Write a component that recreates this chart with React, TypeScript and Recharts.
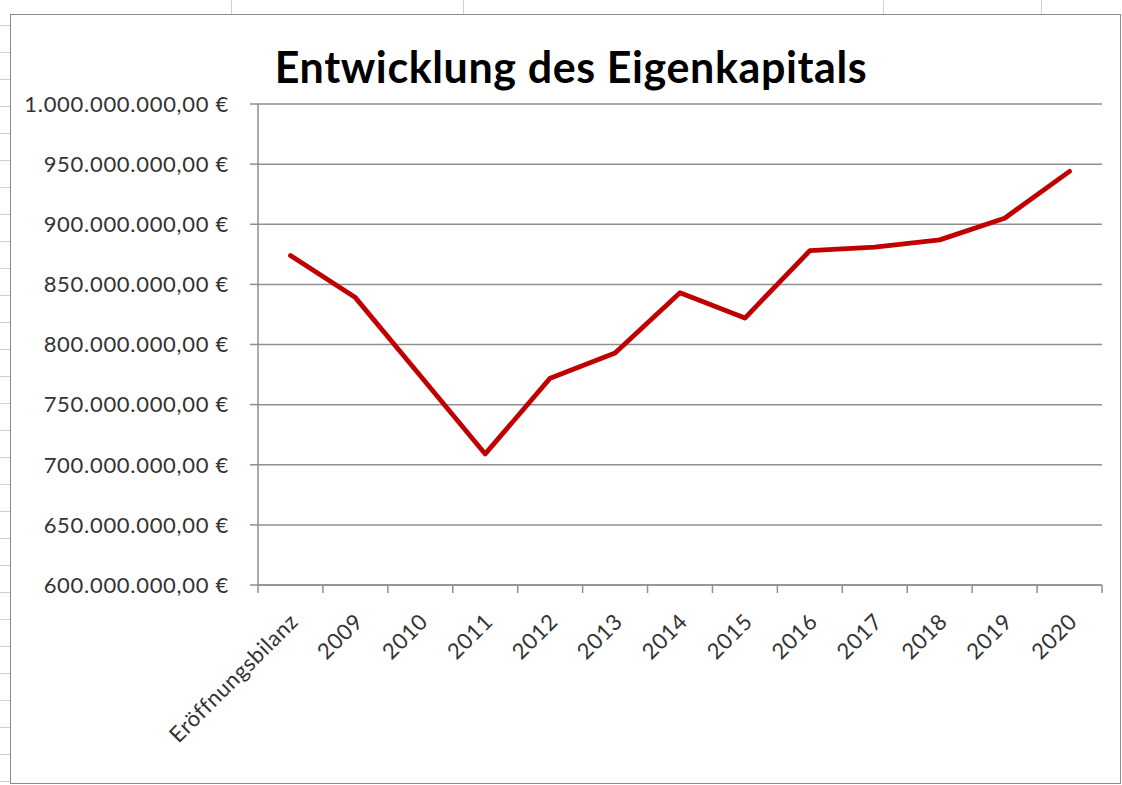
import React from "react";
import { LineChart, Line, XAxis, YAxis, CartesianGrid } from "recharts";

const categories = [
  "Eröffnungsbilanz",
  "2009",
  "2010",
  "2011",
  "2012",
  "2013",
  "2014",
  "2015",
  "2016",
  "2017",
  "2018",
  "2019",
  "2020",
];

const eigenkapital = [
  874000000, 839000000, 774000000, 709000000, 772000000, 793000000, 843000000,
  822000000, 878000000, 881000000, 887000000, 905000000, 944000000,
];

const yTicks = [
  600000000, 650000000, 700000000, 750000000, 800000000, 850000000, 900000000,
  950000000, 1000000000,
];

const data = categories.map((c, i) => ({ name: c, value: eigenkapital[i] }));

// layout
const W = 1122;
const H = 785;
const PLOT_LEFT = 258;
const PLOT_RIGHT = 1102;
const PLOT_TOP = 104;
const PLOT_BOTTOM = 585;
const STEP = (PLOT_RIGHT - PLOT_LEFT) / categories.length;

const AXIS = "#8f8f8f";
const FONT = "Lato, 'Open Sans', sans-serif";

const euro = (v: number) =>
  Math.round(v)
    .toString()
    .replace(/\B(?=(\d{3})+(?!\d))/g, ".") + ",00 €";

const CatTick = (props: any) => {
  const { x, y, payload, index } = props;
  const tx = x + 9;
  const ty = y + 38;
  return (
    <g>
      <line x1={x - STEP / 2} x2={x - STEP / 2} y1={y} y2={y + 8} stroke={AXIS} strokeWidth={1.5} />
      {index === categories.length - 1 && (
        <line x1={x + STEP / 2} x2={x + STEP / 2} y1={y} y2={y + 8} stroke={AXIS} strokeWidth={1.5} />
      )}
      <text
        x={tx}
        y={ty}
        transform={`rotate(-45 ${tx} ${ty})`}
        textAnchor="end"
        fontSize={22}
        letterSpacing={0.6}
        fontFamily={FONT}
        fill="#333"
      >
        {payload.value}
      </text>
    </g>
  );
};

export default function App() {
  return (
    <div
      style={{
        position: "absolute",
        left: 0,
        top: 0,
        width: W,
        height: H,
        background: "#fff",
        overflow: "hidden",
      }}
    >
      {/* worksheet cell lines around the chart object */}
      <div
        style={{
          position: "absolute",
          left: 0,
          top: 0,
          width: 10,
          height: H,
          background:
            "repeating-linear-gradient(to bottom, transparent 0px, transparent 25px, #d0d0d0 25px, #d0d0d0 26px, transparent 26px, transparent 27px)",
        }}
      />
      {[231, 463, 883, 1041].map((lx) => (
        <div
          key={lx}
          style={{ position: "absolute", left: lx, top: 0, width: 1, height: 14, background: "#d0d0d0" }}
        />
      ))}
      {/* chart frame */}
      <div
        style={{
          position: "absolute",
          left: 10,
          top: 14,
          width: 1109,
          height: 768,
          border: "1.5px solid #8a8a8a",
          background: "#fff",
        }}
      />
      <div
        style={{
          position: "absolute",
          left: 6,
          width: 1130,
          top: 42,
          textAlign: "center",
          fontFamily: FONT,
          fontWeight: 700,
          fontSize: 43,
          letterSpacing: 0.6,
          lineHeight: "50px",
          color: "#000",
        }}
      >
        Entwicklung des Eigenkapitals
      </div>
      <div style={{ position: "absolute", left: 0, top: 0 }}>
        <LineChart
          width={W}
          height={H}
          data={data}
          margin={{ top: PLOT_TOP, right: W - PLOT_RIGHT, bottom: 0, left: 0 }}
        >
          <CartesianGrid horizontal vertical={false} stroke={AXIS} strokeWidth={1.5} />
          <XAxis
            dataKey="name"
            type="category"
            height={H - PLOT_BOTTOM}
            interval={0}
            padding={{ left: STEP / 2, right: STEP / 2 }}
            axisLine={{ stroke: AXIS, strokeWidth: 1.5 }}
            tickLine={false}
            tickSize={0}
            tickMargin={0}
            tick={<CatTick />}
          />
          <YAxis
            type="number"
            width={PLOT_LEFT}
            domain={[600000000, 1000000000]}
            ticks={yTicks}
            interval={0}
            tickFormatter={euro}
            axisLine={{ stroke: AXIS, strokeWidth: 1.5 }}
            tickLine={{ stroke: AXIS, strokeWidth: 1.5 }}
            tickSize={8}
            tickMargin={21}
            tick={{ fontSize: 22, fontFamily: FONT, fill: "#333", letterSpacing: 0.7 }}
          />
          <Line
            type="linear"
            dataKey="value"
            stroke="#c00000"
            strokeWidth={4.8}
            strokeLinejoin="round"
            strokeLinecap="round"
            dot={false}
            activeDot={false}
            isAnimationActive={false}
          />
        </LineChart>
      </div>
    </div>
  );
}
